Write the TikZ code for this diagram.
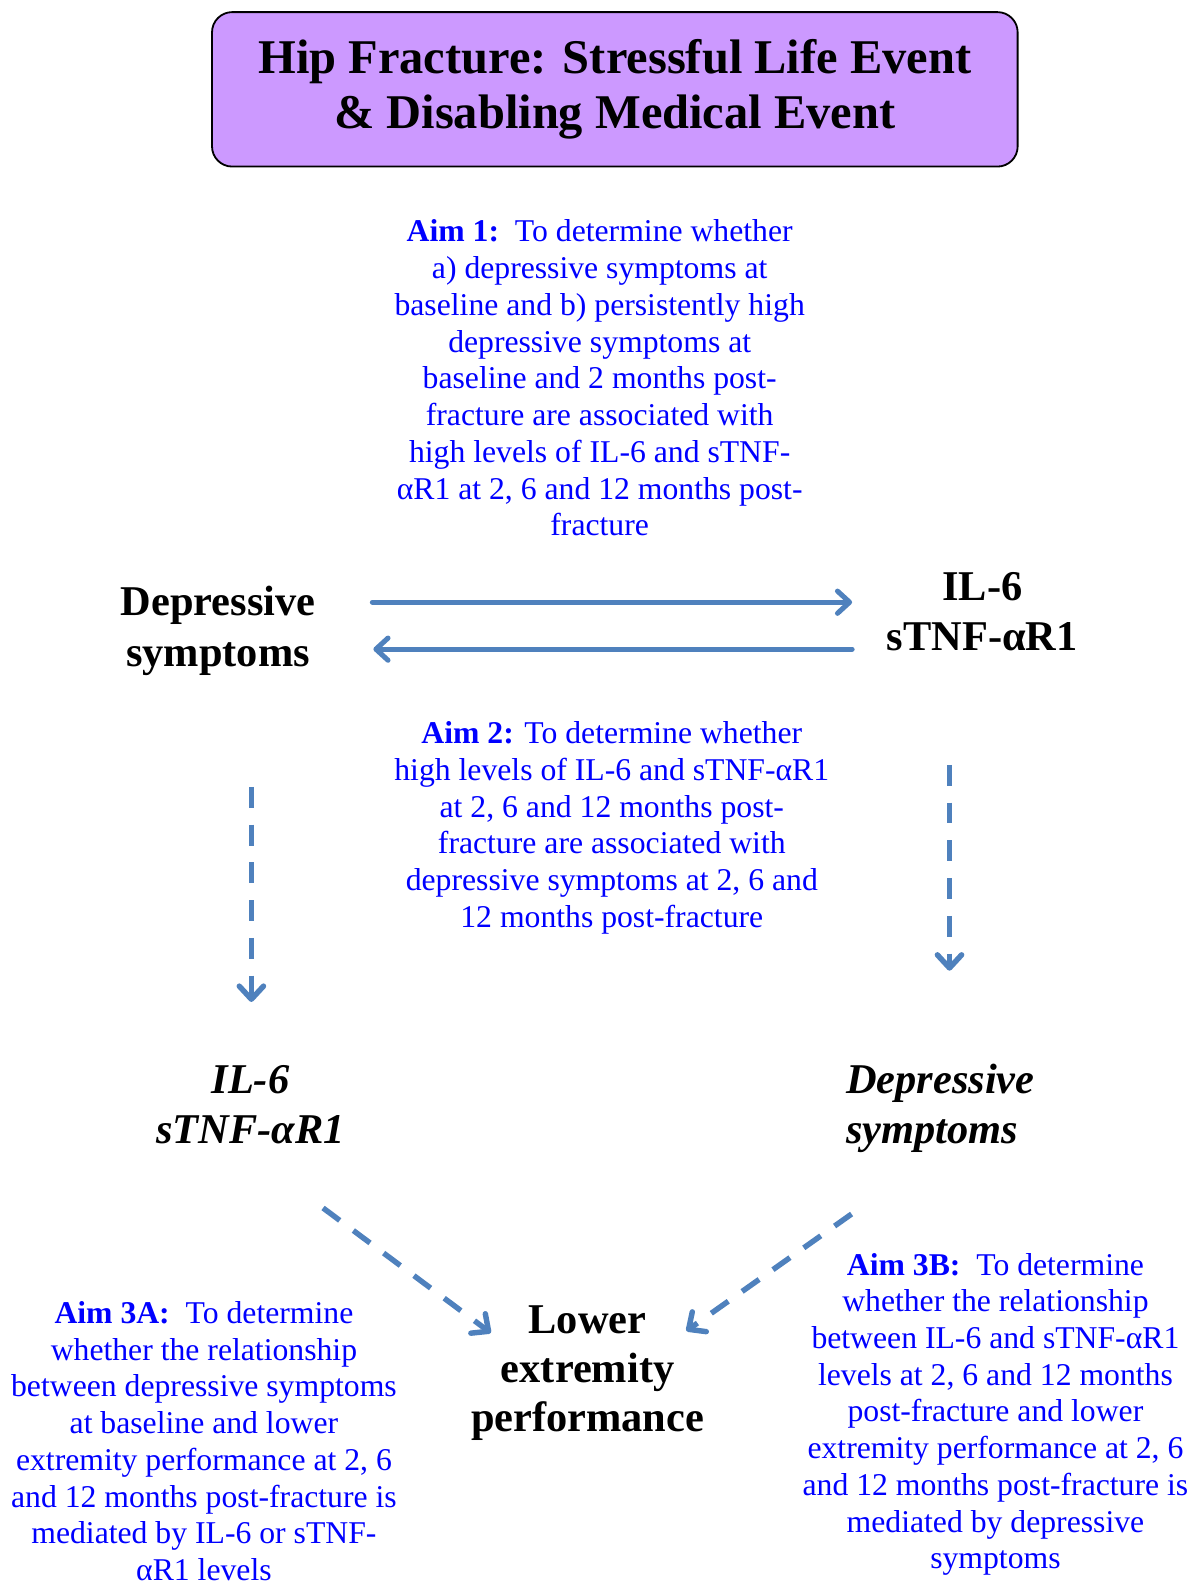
\documentclass[tikz,border=0pt]{standalone}
\usepackage{fontspec}
\setmainfont{Liberation Serif}
\usetikzlibrary{arrows.meta}
\definecolor{aimblue}{RGB}{0,0,255}
\definecolor{arrowblue}{RGB}{79,129,189}
\definecolor{titlepurple}{RGB}{204,153,255}
\begin{document}
\begin{tikzpicture}[x=0.5pt, y=-0.5pt,
    aim/.style={text=aimblue, align=center, inner sep=0pt, font=\fontsize{15.7}{18.2}\selectfont},
    var/.style={align=center, inner sep=0pt, font=\bfseries\fontsize{21}{25}\selectfont},
    flow/.style={draw=arrowblue, line width=2.5pt, line cap=round, -{Straight Barb[length=6pt, width=11pt, round]}},
    dflow/.style={flow, line width=2.7pt, line cap=butt, dash pattern=on 10.3pt off 8.4pt,
        -{Straight Barb[length=6.5pt, width=12pt, round]}}]
    \useasboundingbox (0,0) rectangle (1182,1568);

    % title box
    \node[draw, line width=0.9pt, fill=titlepurple, rounded corners=10pt,
          minimum width=399pt, minimum height=76.5pt, align=center,
          font=\bfseries\fontsize{24}{27.5}\selectfont] (title) at (609,88.5)
        {Hip Fracture: Stressful Life Event\\ \& Disabling Medical Event};

    \node[aim] (aimone) at (594,374.5) {\textbf{Aim 1:}\ \ To determine whether\\
        a) depressive symptoms at\\ baseline and b) persistently high\\
        depressive symptoms at\\ baseline and 2 months post-\\
        fracture are associated with\\ high levels of IL-6 and sTNF-\\
        αR1 at 2, 6 and 12 months post-\\ fracture};

    \node[var] (depA) at (216,625) {Depressive\\ symptoms};
    \node[var] (ilA) at (973,606) {IL-6\\ sTNF-αR1};

    \node[aim] (aimtwo) at (606,820) {\textbf{Aim 2:} To determine whether\\
        high levels of IL-6 and sTNF-αR1\\ at 2, 6 and 12 months post-\\
        fracture are associated with\\ depressive symptoms at 2, 6 and\\
        12 months post-fracture};

    \node[var, font=\bfseries\itshape\fontsize{21}{25}\selectfont] (ilB) at (248,1094) {IL-6\\ sTNF-αR1};
    \node[var, align=left, font=\bfseries\itshape\fontsize{21}{25}\selectfont] (depB) at (931.5,1098) {Depressive\\ symptoms};

    \node[var, font=\bfseries\fontsize{21}{24.3}\selectfont] (lower) at (582,1360.5) {Lower\\ extremity\\ performance};

    \node[aim] (aimthreeA) at (202,1427.5) {\textbf{Aim 3A:}\ \ To determine\\
        whether the relationship\\ between depressive symptoms\\
        at baseline and lower\\ extremity performance at 2, 6\\
        and 12 months post-fracture is\\ mediated by IL-6 or sTNF-\\ αR1 levels};
    \node[aim] (aimthreeB) at (986,1401) {\textbf{Aim 3B:}\ \ To determine\\
        whether the relationship\\ between IL-6 and sTNF-αR1\\
        levels at 2, 6 and 12 months\\ post-fracture and lower\\
        extremity performance at 2, 6\\ and 12 months post-fracture is\\
        mediated by depressive\\ symptoms};

    % arrows
    \draw[flow] ([shift={(56,-28.5)}]depA.east) -- ([shift={(-34,-9.5)}]ilA.west);
    \draw[flow] ([shift={(-34,37)}]ilA.west) -- ([shift={(57,18)}]depA.east);
    \draw[dflow] ([shift={(1,-275)}]ilB.north) -- ([shift={(1,-62)}]ilB.north);
    \draw[dflow] ([shift={(9,-296)}]depB.north) -- ([shift={(9,-92)}]depB.north);
    \draw[dflow] ([shift={(72,63)}]ilB.south) -- ([shift={(20,27)}]lower.north west);
    \draw[dflow] ([shift={(-88,60)}]depB.south) -- ([shift={(-18,25)}]lower.north east);
\end{tikzpicture}
\end{document}
